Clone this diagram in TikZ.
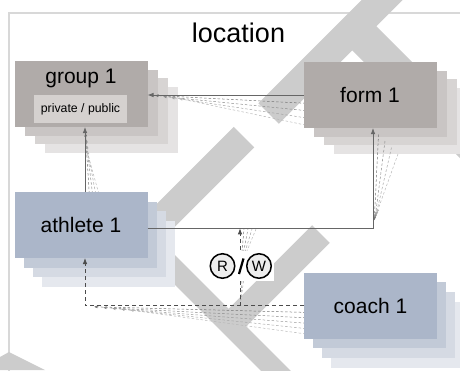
\documentclass[tikz,border=0pt]{standalone}
\usepackage{fontspec}
\setmainfont{Liberation Sans}
\usetikzlibrary{arrows.meta}
\definecolor{bandc}{HTML}{CCCCCC}
\definecolor{framec}{HTML}{D8D8D8}
\definecolor{gA}{HTML}{B0ABA9}
\definecolor{gB}{HTML}{C9C5C4}
\definecolor{gC}{HTML}{D7D4D3}
\definecolor{gD}{HTML}{E5E3E3}
\definecolor{ppc}{HTML}{D5D1CF}
\definecolor{bA}{HTML}{ABB6C9}
\definecolor{bB}{HTML}{C2CAD7}
\definecolor{bC}{HTML}{D5DAE3}
\definecolor{bD}{HTML}{E5E8EE}
\definecolor{circfill}{HTML}{EDEDED}
\begin{document}
\begin{tikzpicture}[x=1pt,y=-1pt,
  boxnode/.style={minimum width=133pt,minimum height=66pt,inner sep=0pt,outer sep=0pt,font=\fontsize{21}{25}\selectfont},
  band/.style={draw=bandc,line cap=butt},
  conn/.style={draw=black!60,line width=0.8pt},
  tip/.style={-{Latex[length=6pt,width=4.5pt]}},
  shadowline/.style={dash pattern=on 2.5pt off 2pt,line width=0.5pt},
  stip/.style={-{Latex[length=3.5pt,width=3pt]}},
  rwcirc/.style={circle,draw=black,line width=1.5pt,fill=circfill,minimum size=24.5pt,inner sep=0pt,font=\fontsize{15}{17}\selectfont}
]
\useasboundingbox (0,0) rectangle (460,370);
% frame
\draw[framec,line width=1.2pt] (9,380) -- (9,13) -- (470,13);
% watermark bands
\begin{scope}
\clip (0,0) rectangle (460,370);
\draw[band,line width=29pt] (402,-20) -- (268.5,113.5);
\draw[band,line width=29pt] (244,137) -- (135.5,245.5);
\draw[band,line width=34pt] (354,28) -- (480,154);
\draw[band,line width=21pt] (143,238) -- (300,395);
\draw[band,line width=25pt] (321,234) -- (230,325);
\fill[bandc] (0,357) -- (9,352) -- (45,370) -- (0,370) -- cycle;
\end{scope}
% title
\node[anchor=base,font=\fontsize{27}{30}\selectfont] (title) at (238.5,42.5) {location};
% stacked copies
\node[boxnode,fill=gD] (g1s3) at (111,120.1) {};
\node[boxnode,fill=gC] (g1s2) at (101,111.4) {};
\node[boxnode,fill=gB] (g1s1) at (91,102.7) {};
\node[boxnode,fill=gD] (f1s3) at (400,121.1) {};
\node[boxnode,fill=gC] (f1s2) at (390,112.4) {};
\node[boxnode,fill=gB] (f1s1) at (380,103.7) {};
\node[boxnode,fill=bD] (a1s3) at (108,254.1) {};
\node[boxnode,fill=bC] (a1s2) at (99,244.4) {};
\node[boxnode,fill=bB] (a1s1) at (90,234.7) {};
\node[boxnode,fill=bD] (c1s3) at (397.5,334.6) {};
\node[boxnode,fill=bC] (c1s2) at (388.5,324.9) {};
\node[boxnode,fill=bB] (c1s1) at (379.5,315.2) {};
% shadow connectors
\foreach \k/\c in {1/55,2/45,3/36,4/28}{
  \draw[shadowline,stip,draw=black!\c] (310,{96+7.5*\k}) -- ({147+8*\k},{94.5+\k});
  \draw[shadowline,stip,draw=black!\c] ({86+3.5*\k},198) -- ({85+0.5*\k},{127+6*\k});
  \draw[shadowline,stip,draw=black!\c] ({372+6.5*\k},{128+6.5*\k}) -- ({373.5+0.8*\k},{223-2.5*\k});
  \draw[shadowline,draw=black!\c] ({240.5+1.5*\k},252) -- ({240+4*\k},229);
}
\foreach \k/\c in {1/55,2/47,3/40,4/34,5/28}{
  \draw[shadowline,stip,draw=black!\c] (310,{307+5.5*\k}) -- ({85+9*\k},{306+0.8*\k});
}
\foreach \k/\c in {1/45,2/32}{
  \draw[shadowline,draw=black!\c] ({240.5+1.5*\k},281) -- ({240+0.5*\k},300);
}
% main boxes
\node[boxnode,fill=gA] (g1) at (81,94) {};
\node[anchor=base,font=\fontsize{21}{25}\selectfont] (g1t) at (81,83.5) {group 1};
\node[fill=ppc,minimum width=93pt,minimum height=28pt,inner sep=0pt,font=\fontsize{12.3}{14}\selectfont] (g1pp) at (80.5,109) {private / public};
\node[boxnode,fill=gA] (f1) at (370,95) {form 1};
\node[boxnode,fill=bA] (a1) at (81,225) {athlete 1};
\node[boxnode,fill=bA] (c1) at (370.5,305.5) {coach 1};
% main connectors
\draw[conn,tip] (f1.west) -- (f1.west -| g1.east);
\draw[conn,tip] ([xshift=4pt]a1.north) -- ([xshift=4pt]g1.south);
\draw[conn,tip] ([yshift=-3pt]a1.east) -| ([xshift=3pt]f1.south);
\draw[conn,draw=black!70,dash pattern=on 4pt off 3pt,tip] (c1.west) -| ([xshift=4pt]a1.south);
\coordinate (rwlow) at (240,305.5);
\coordinate (rwtop) at (240,228.3);
\draw[conn,draw=black!70,dash pattern=on 4pt off 3pt,tip] (rwlow) -- (rwtop);
% R/W label
\node[fill=white,minimum width=65pt,minimum height=30pt,inner sep=0pt] (rwbg) at (241,266) {};
\node[rwcirc] (rr) at (222.5,266) {R};
\node[rwcirc] (ww) at (259,266) {W};
\draw[line width=2.2pt] (239,274) -- (243.5,258.5);
\end{tikzpicture}
\end{document}
